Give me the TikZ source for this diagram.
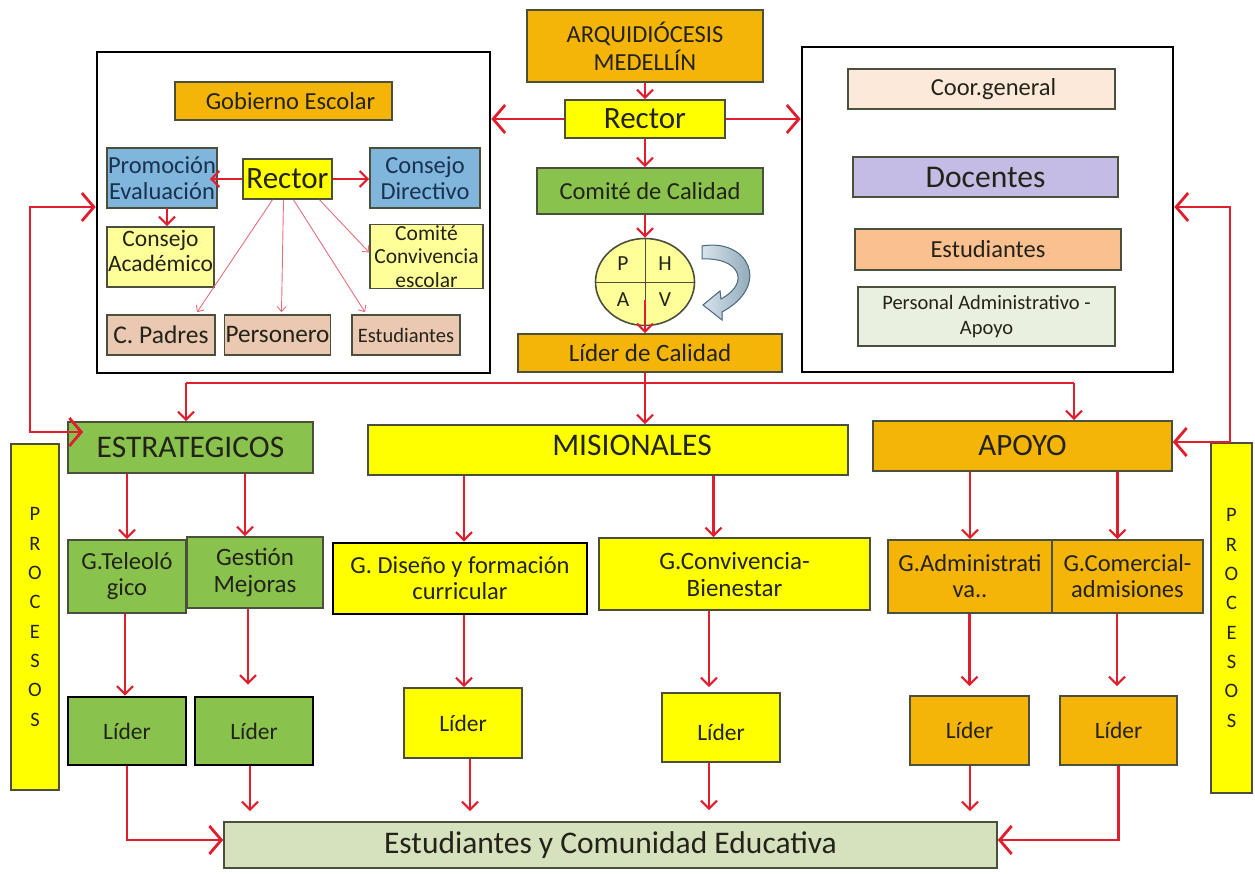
\documentclass[tikz,border=0pt]{standalone}
\usepackage{fontspec}
\setmainfont{Carlito}
\usetikzlibrary{arrows.meta,calc,shapes.geometric}
\definecolor{gold}{RGB}{245,180,8}
\definecolor{grn}{RGB}{138,194,78}
\definecolor{yel}{RGB}{255,255,0}
\definecolor{lyel}{RGB}{255,255,153}
\definecolor{blu}{RGB}{128,181,220}
\definecolor{peach}{RGB}{234,200,178}
\definecolor{coorc}{RGB}{253,233,217}
\definecolor{lav}{RGB}{196,188,228}
\definecolor{ora}{RGB}{250,192,144}
\definecolor{pagray}{RGB}{234,240,224}
\definecolor{botc}{RGB}{214,226,190}
\definecolor{arrred}{RGB}{224,30,45}
\definecolor{thinred}{RGB}{232,110,125}
\definecolor{bord}{RGB}{75,80,60}
\definecolor{txtc}{RGB}{35,35,25}
\definecolor{navy}{RGB}{25,50,80}
\definecolor{carlt}{RGB}{215,228,235}
\definecolor{cardk}{RGB}{115,145,165}
\definecolor{carbd}{RGB}{75,105,125}
\tikzset{
  SB/.tip={Straight Barb[length=8pt,width=16pt,line width=2.2pt]},
  BB/.tip={Straight Barb[length=12pt,width=28pt]},
  TB/.tip={Straight Barb[length=5pt,width=9pt]}
}
\begin{document}
\begin{tikzpicture}[x=1pt,y=-1pt,
  fs/.style 2 args={font=\fontsize{#1}{#2}\selectfont},
  box/.style={draw=bord, line width=1.6pt, inner sep=1pt, align=center, text=txtc, fs={24.5}{26}},
  heavy/.style={draw=black, line width=2.6pt},
  frame/.style={draw=black, line width=2.6pt, fill=white, inner sep=0pt},
  redl/.style={draw=arrred, line width=2.8pt},
  thinl/.style={draw=thinred, line width=0.9pt, -TB},
  letter/.style={text=txtc, fs={21.5}{22}, inner sep=0pt}
]
\fill[white] (0,0) rectangle (1255,874);
\useasboundingbox (0,0) rectangle (1255,874);

% outer frames
\node[frame, minimum width=393, minimum height=321] (lbox) at (293.5,212.5) {};
\node[frame, minimum width=371, minimum height=325] (rbox) at (987.5,209.5) {};

% central column
\node[box, fill=gold, minimum width=236, minimum height=72, fs={24.5}{28}] (arq) at (645,46) {ARQUIDIÓCESIS\\MEDELLÍN};
\node[box, fill=yel, minimum width=160, minimum height=38, fs={31}{33}] (rector) at (645,119) {Rector};
\node[box, fill=grn, minimum width=226, minimum height=46] (comite) at (650,191) {Comité de Calidad};
\node[ellipse, draw=bord, line width=1.6pt, fill=lyel, minimum width=99, minimum height=87, inner sep=0pt] (phva) at (645,282) {};
\draw[bord, line width=0.8pt] (phva.north) -- (phva.south) (phva.west) -- (phva.east);
\node[letter] (pP) at (623,264) {P};
\node[letter] (pH) at (665,264) {H};
\node[letter] (pA) at (623,300) {A};
\node[letter] (pV) at (665,300) {V};
\filldraw[draw=carbd, line width=1pt, left color=carlt, right color=cardk]
  (702,246) .. controls (748,238) and (772,285) .. (722,312) -- (722,320) -- (703,305) -- (720,291)
  -- (721,299) .. controls (752,282) and (738,257) .. (702,259) -- cycle;
\node[box, fill=gold, minimum width=264, minimum height=38, fs={25}{27}] (lcal) at (650,353) {Líder de Calidad};

% left frame contents
\node[box, fill=gold, minimum width=217, minimum height=38] (gob) at (283.5,101) {\hspace*{14pt}Gobierno Escolar};
\node[box, fill=blu, text=navy, minimum width=110, minimum height=60] (prom) at (162,178) {Promoción\\Evaluación};
\node[box, fill=yel, minimum width=89, minimum height=40, fs={31}{33}] (rect2) at (287.5,179) {Rector};
\node[box, fill=blu, text=navy, minimum width=110, minimum height=60] (cdir) at (425,178) {Consejo\\Directivo};
\node[box, fill=lyel, minimum width=107, minimum height=60,
  label={[fs={23.5}{25}, align=center, text=txtc, yshift=6pt]center:{Consejo\\Académico}}] (cacad) at (160.5,257) {};
\node[box, fill=lyel, minimum width=113, minimum height=63, fs={21.5}{23.5}] (cconv) at (426.5,256.5) {Comité\\Convivencia\\escolar};
\node[box, fill=peach, minimum width=108, minimum height=40, fs={25.5}{27}] (cpad) at (161,335) {C. Padres};
\node[box, fill=peach, minimum width=105, minimum height=40, fs={25.2}{27}] (pers) at (277.5,335) {Personero};
\node[box, fill=peach, minimum width=108, minimum height=40, fs={20.5}{22}] (est1) at (406,335) {Estudiantes};

% right frame contents
\node[box, fill=coorc, minimum width=267, minimum height=40] (coor) at (981.5,89) {\hspace*{24pt}Coor.general};
\node[box, fill=lav, minimum width=265, minimum height=40, fs={31.6}{33}] (doc) at (985.5,177) {Docentes};
\node[box, fill=ora, minimum width=266, minimum height=41] (est2) at (988,249.5) {Estudiantes};
\node[box, fill=pagray, minimum width=257, minimum height=59, fs={20.5}{25}] (pa) at (986.5,316.5) {Personal Administrativo -\\Apoyo};

% process headers
\node[box, fill=grn, minimum width=245, minimum height=51, fs={31.5}{33}] (estr) at (190.5,447.5) {ESTRATEGICOS};
\node[box, fill=yel, minimum width=480, minimum height=50, fs={31.5}{33},
  label={[fs={31.5}{33}, text=txtc, xshift=24pt, yshift=5pt]center:MISIONALES}] (mis) at (608,450) {};
\node[box, fill=gold, minimum width=299, minimum height=50, fs={31}{33}] (apoyo) at (1022.5,446) {APOYO};
\node[box, fill=yel, minimum width=48, minimum height=346, fs={20.5}{29.3}] (procL) at (35,617) {P\\R\\O\\C\\E\\S\\O\\S};
\node[box, fill=yel, minimum width=41, minimum height=350, fs={20.5}{29.3}] (procR) at (1231.5,618) {P\\R\\O\\C\\E\\S\\O\\S};

% second level
\node[box, fill=grn, minimum width=118, minimum height=73] (gtel) at (127,576.5) {G.Teleoló\\gico};
\node[box, fill=grn, minimum width=136, minimum height=71, fs={25}{27}] (gmej) at (255,572.5) {Gestión\\Mejoras};
\node[box, heavy, fill=yel, minimum width=254, minimum height=71, text=txtc] (gdis) at (460,578.5) {G. Diseño y formación\\curricular};
\node[box, fill=yel, minimum width=271, minimum height=72, fs={25}{27}] (gconv) at (734.5,574) {G.Convivencia-\\Bienestar};
\node[box, fill=gold, minimum width=164, minimum height=73] (gadm) at (970,576.5) {G.Administrati\\va..};
\node[box, fill=gold, minimum width=151, minimum height=73] (gcom) at (1127.5,576.5) {G.Comercial-\\admisiones};

% leaders
\node[box, heavy, fill=grn, minimum width=118, minimum height=68, text=txtc, fs={23.5}{25}] (l1) at (127,731) {Líder};
\node[box, heavy, fill=grn, minimum width=118, minimum height=68, text=txtc, fs={23.5}{25}] (l2) at (254,731) {Líder};
\node[box, fill=yel, minimum width=118, minimum height=70, fs={23.5}{25}] (l3) at (463,723) {Líder};
\node[box, fill=yel, minimum width=118, minimum height=69, fs={23.5}{25},
  label={[fs={23.5}{25}, text=txtc, yshift=-5pt]center:Líder}] (l4) at (721,727.5) {};
\node[box, fill=gold, minimum width=119, minimum height=69, fs={23.5}{25}] (l5) at (969.5,730.5) {Líder};
\node[box, fill=gold, minimum width=117, minimum height=69, fs={23.5}{25}] (l6) at (1118.5,730.5) {Líder};

\node[box, fill=botc, minimum width=773, minimum height=46, fs={31.5}{33}] (bot) at (610.5,845) {Estudiantes y Comunidad Educativa};

% ---- connectors ----
\draw[redl,-SB] (arq.south) -- (rector.north);
\draw[redl,-BB] (rector.west) -- (rector.west -| lbox.east);
\draw[redl,-BB] (rector.east) -- (rector.east -| rbox.west);
\draw[redl,-SB] (rector.south) -- (rector.south |- comite.north);
\draw[redl,-SB] (comite.south -| phva.north) -- (phva.north);
\coordinate (pin) at (645,300);
\draw[redl,-SB] (pin) -- (pin |- lcal.north);

\coordinate (hc) at (645,383);
\coordinate (hl) at (186,383);
\coordinate (hr) at (1074,383);
\draw[redl,-SB] (lcal.south -| hc) -- (mis.north -| hc);
\draw[redl] (hl) -- (hr);
\draw[redl,-SB] (hl) -- (hl |- estr.north);
\draw[redl,-SB] (hr) -- (hr |- apoyo.north);

\coordinate (la) at (30,207);
\coordinate (lb) at (30,432);
\draw[redl,BB-BB,shorten >=-16pt] (la -| lbox.west) -- (la) -- (lb) -- (lb -| estr.west);
\coordinate (ra) at (1230,207);
\coordinate (rb) at (1230,442);
\draw[redl,BB-BB] (ra -| rbox.east) -- (ra) -- (rb) -- (rb -| apoyo.east);

% inside left frame
\draw[redl,-SB,shorten >=-8pt] (rect2.west) -- (rect2.west -| prom.east);
\draw[redl,-SB] (rect2.east) -- (rect2.east -| cdir.west);
\coordinate (pd) at (167,208);
\draw[redl,-SB] (pd) -- (pd |- cacad.north);
\draw[thinl] ($(rect2.south)+(-15,0)$) -- ($(cpad.north)+(36,-2)$);
\draw[thinl] ($(rect2.south)+(-4,0)$) -- ($(pers.north)+(4,-2)$);
\draw[thinl] ($(rect2.south)+(6,0)$) -- ($(est1.north)+(-41,-2)$);
\draw[thinl] ($(rect2.south)+(32,0)$) -- ($(cconv.west)+(0,-4)$);

% headers -> second level
\draw[redl,-SB] (estr.south -| gtel.north) -- (gtel.north);
\coordinate (a2) at ($(gmej.north)+(-10,0)$);
\draw[redl,-SB] (a2 |- estr.south) -- (a2);
\coordinate (a3) at ($(gdis.north)+(4,0)$);
\draw[redl,-SB] (a3 |- mis.south) -- (a3);
\coordinate (a4) at ($(gconv.north)+(-21,0)$);
\draw[redl,-SB] (a4 |- mis.south) -- (a4);
\draw[redl,-SB] (apoyo.south -| gadm.north) -- (gadm.north);
\coordinate (a6) at ($(gcom.north)+(-10,0)$);
\draw[redl,-SB] (a6 |- apoyo.south) -- (a6);

% second level -> leaders
\coordinate (b1) at ($(l1.north)+(-2,0)$);
\draw[redl,-SB] (b1 |- gtel.south) -- (b1);
\coordinate (b2) at ($(l2.north)+(-6,0)$);
\draw[redl,-SB,shorten >=11pt] (b2 |- gmej.south) -- (b2);
\coordinate (b3) at ($(l3.north)+(1,0)$);
\draw[redl,-SB] (b3 |- gdis.south) -- (b3);
\coordinate (b4) at ($(l4.north)+(-12,0)$);
\draw[redl,-SB,shorten >=5pt] (b4 |- gconv.south) -- (b4);
\draw[redl,-SB,shorten >=9pt] (gadm.south -| l5.north) -- (l5.north);
\coordinate (b6) at ($(l6.north)+(-1.5,0)$);
\draw[redl,-SB,shorten >=9pt] (b6 |- gcom.south) -- (b6);

% leaders -> bottom
\coordinate (c1) at ($(bot.west)+(0,-5)$);
\draw[redl,-BB] (l1.south) |- (c1);
\coordinate (c2) at ($(l2.south)+(-4,0)$);
\draw[redl,-SB,shorten >=10pt] (c2) -- (c2 |- bot.north);
\coordinate (c3) at ($(l3.south)+(7,0)$);
\draw[redl,-SB,shorten >=10pt] (c3) -- (c3 |- bot.north);
\coordinate (c4) at ($(l4.south)+(-12,0)$);
\draw[redl,-SB,shorten >=11pt] (c4) -- (c4 |- bot.north);
\coordinate (c5) at ($(l5.south)+(0.5,0)$);
\draw[redl,-SB,shorten >=10pt] (c5) -- (c5 |- bot.north);
\coordinate (c6) at ($(bot.east)+(0,-5)$);
\draw[redl,-BB] (l6.south) |- (c6);
\end{tikzpicture}
\end{document}
